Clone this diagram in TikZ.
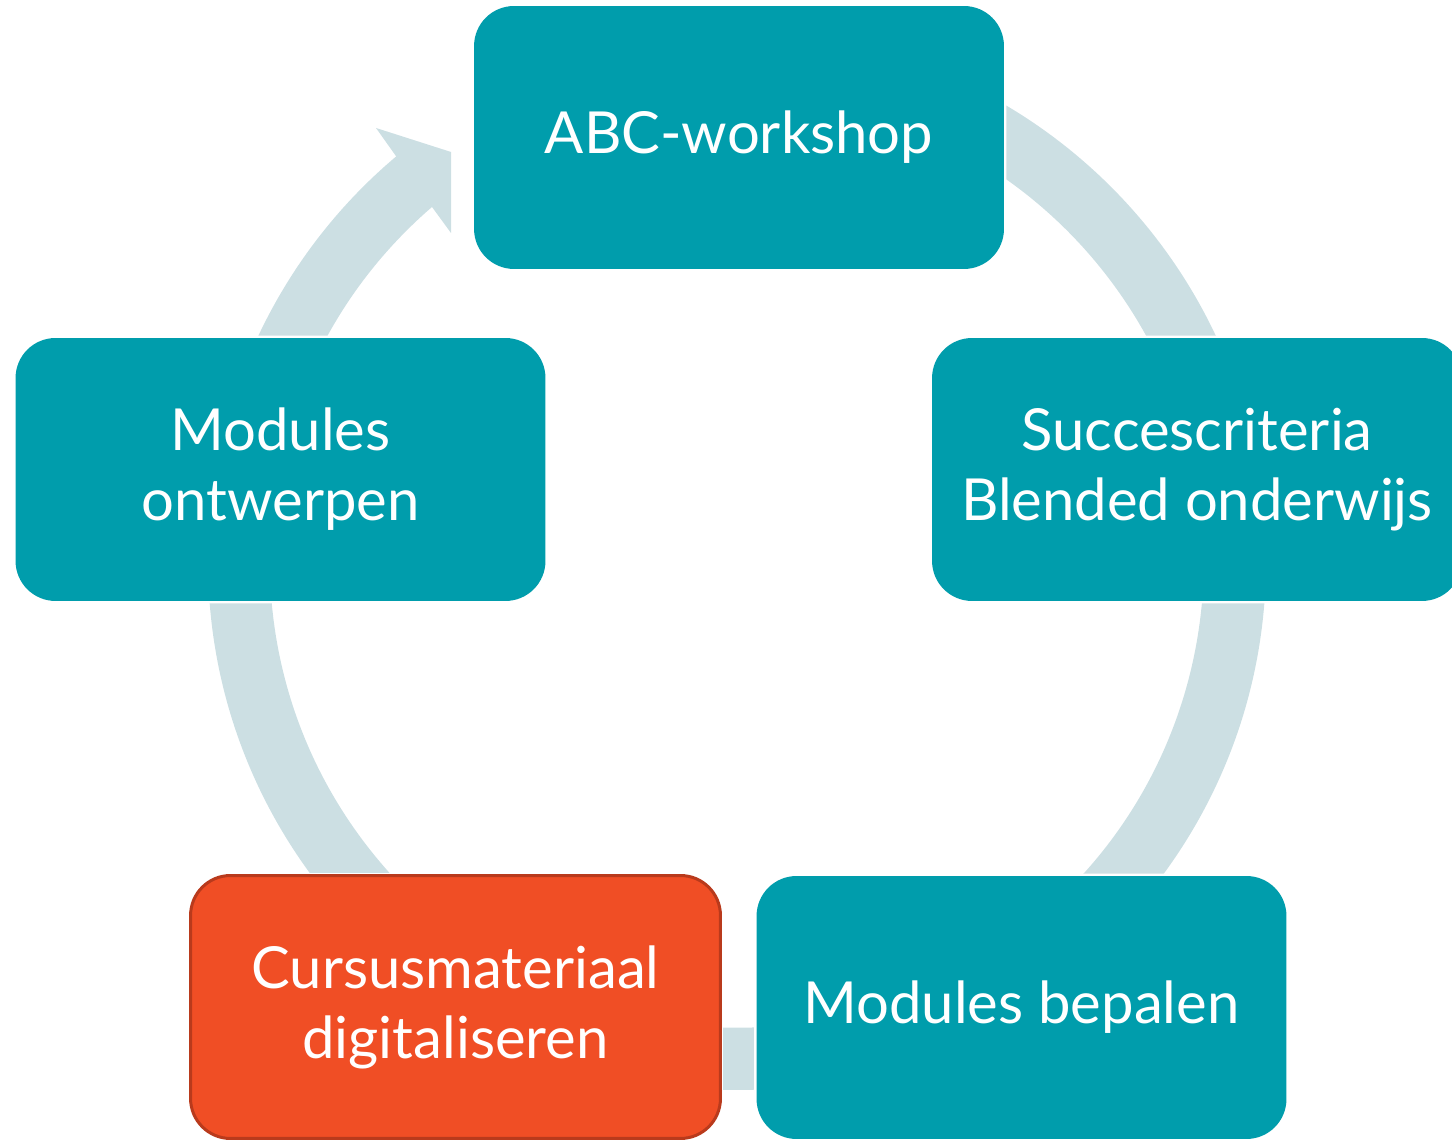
\documentclass[tikz,border=0pt]{standalone}
\usepackage{fontspec}
\setmainfont{Lato}
\definecolor{boxteal}{RGB}{0,157,172}
\definecolor{boxorange}{RGB}{240,78,37}
\definecolor{boxborder}{RGB}{185,58,28}
\definecolor{ringgray}{RGB}{204,223,227}
\newcommand{\boxtext}{\fontsize{33}{39.8}\selectfont}

\begin{document}
\begin{tikzpicture}[x=0.02cm,y=0.02cm]
    \clip (0,0) rectangle (1452,1141);

    % ring with arrow head
    \fill[ringgray] (737,580) ++(90:529)
        arc[start angle=90, end angle=-229.89, radius=529]
        -- (376,1013) -- (451,989) -- (451,908) -- (432,934)
        arc[start angle=-229.25, end angle=90, radius=467] -- cycle;

    \begin{scope}[every node/.style={rounded corners=0.8cm,fill=boxteal,text=white,
            minimum width=10.6cm,minimum height=5.26cm,inner sep=0pt,align=center,
            font=\boxtext,preaction={draw=white,line width=0.1cm}}]
        \node (abc) at (739,1003.5) {ABC-workshop};
        \node (succes) at (1197,671.5) {Succescriteria\\Blended onderwijs};
        \node (bepalen) at (1021.5,133.5) {Modules bepalen};
        \node[fill=boxorange,draw=boxborder,line width=0.06cm] (cursus) at (455.5,134) {Cursusmateriaal\\digitaliseren};
        \node (ontwerpen) at (280.5,671.5) {Modules\\ontwerpen};
    \end{scope}
\end{tikzpicture}
\end{document}
